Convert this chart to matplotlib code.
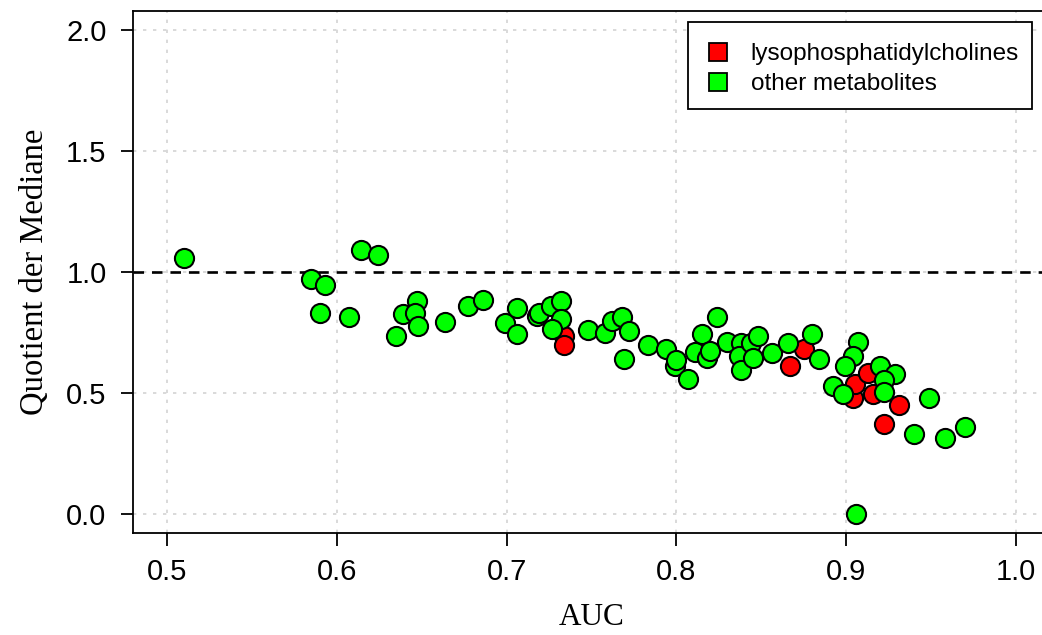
import matplotlib
matplotlib.use('Agg')
import matplotlib.pyplot as plt
from matplotlib.lines import Line2D
from matplotlib.patches import Rectangle

# AUC and median quotient
lpc_auc = [0.734, 0.734, 0.867, 0.875, 0.904, 0.905, 0.913, 0.916, 0.931, 0.922]
lpc_quot = [0.737, 0.696, 0.609, 0.683, 0.480, 0.538, 0.584, 0.497, 0.451, 0.369]

other_auc = [0.510, 0.614, 0.624, 0.585, 0.593, 0.590, 0.607, 0.635, 0.639, 0.647,
             0.646, 0.648, 0.664, 0.677, 0.686, 0.699, 0.706, 0.706, 0.718, 0.719,
             0.726, 0.732, 0.732, 0.727, 0.748, 0.758, 0.762, 0.768, 0.772, 0.769,
             0.783, 0.794, 0.799, 0.800, 0.807, 0.811, 0.815, 0.818, 0.820, 0.824,
             0.830, 0.838, 0.837, 0.838, 0.844, 0.845, 0.848, 0.856, 0.866, 0.880,
             0.884, 0.907, 0.904, 0.899, 0.892, 0.898, 0.920, 0.929, 0.922, 0.922,
             0.949, 0.940, 0.958, 0.970, 0.906]
other_quot = [1.060, 1.093, 1.072, 0.973, 0.948, 0.832, 0.812, 0.737, 0.828, 0.882,
              0.832, 0.778, 0.795, 0.861, 0.886, 0.791, 0.849, 0.745, 0.820, 0.832,
              0.861, 0.882, 0.807, 0.766, 0.758, 0.749, 0.799, 0.812, 0.754, 0.638,
              0.700, 0.683, 0.609, 0.634, 0.559, 0.671, 0.745, 0.646, 0.675, 0.812,
              0.712, 0.708, 0.654, 0.596, 0.708, 0.646, 0.737, 0.663, 0.708, 0.745,
              0.642, 0.712, 0.654, 0.613, 0.530, 0.497, 0.609, 0.580, 0.555, 0.505,
              0.480, 0.331, 0.315, 0.360, 0.000]

xticks = [0.5, 0.6, 0.7, 0.8, 0.9, 1.0]
yticks = [0.0, 0.5, 1.0, 1.5, 2.0]
labels = ['lysophosphatidylcholines', 'other metabolites']

sans = 'Liberation Sans'
serif = 'Liberation Serif'

W, H = 1042, 635
fig = plt.figure(figsize=(W / 100, H / 100), dpi=100)
ax = fig.add_axes([133 / W, 102 / H, 917 / W, 522 / H])

ax.set_xlim(0.48, 1.02)
ax.set_ylim(-0.08, 2.08)

for x in xticks:
    ax.axvline(x, color='#d3d3d3', lw=1.2, ls=(0, (2, 4)), zorder=0)
for y in yticks:
    ax.axhline(y, color='#d3d3d3', lw=1.2, ls=(0, (2, 4)), zorder=0)
ax.axhline(1.0, color='black', lw=1.9, ls=(0, (4, 3)), zorder=1)

ax.scatter(lpc_auc, lpc_quot, s=190, c='#ff0000', edgecolors='black', linewidths=1.5, zorder=2)
ax.scatter(other_auc, other_quot, s=190, c='#00ff00', edgecolors='black', linewidths=1.5, zorder=3)

ax.set_xticks(xticks)
ax.set_yticks(yticks)
ax.set_xticklabels(['%.1f' % v for v in xticks], fontfamily=sans, fontsize=21)
ax.set_yticklabels(['%.1f' % v for v in yticks], fontfamily=sans, fontsize=21)
ax.tick_params(direction='out', length=9, width=1.3, pad=9)
ax.tick_params(axis='y', pad=10)
for sp in ax.spines.values():
    sp.set_linewidth(1.3)

ax.set_xlabel('AUC', fontfamily=serif, fontsize=22.5, labelpad=12)
ax.set_ylabel('Quotient der Mediane', fontfamily=serif, fontsize=23.5, labelpad=12)

# legend frame drawn separately so its padding can match the R-style box
box = Rectangle((688 / W, (H - 109) / H), 344 / W, 87 / H, transform=fig.transFigure,
                facecolor='white', edgecolor='black', lw=1.3, zorder=5)
fig.add_artist(box)

handles = [Line2D([], [], ls='none', marker='s', markersize=13, markerfacecolor=c,
                  markeredgecolor='black', markeredgewidth=1.3)
           for c in ('#ff0000', '#00ff00')]
leg = fig.legend(handles, labels, loc='upper left', bbox_to_anchor=(700 / W, (H - 43) / H),
                 frameon=False, borderpad=0, borderaxespad=0,
                 prop={'family': sans, 'size': 17.5}, handlelength=1.5,
                 handletextpad=0.58, labelspacing=0.34)
leg.set_zorder(6)

fig.savefig('out.png', dpi=100)
